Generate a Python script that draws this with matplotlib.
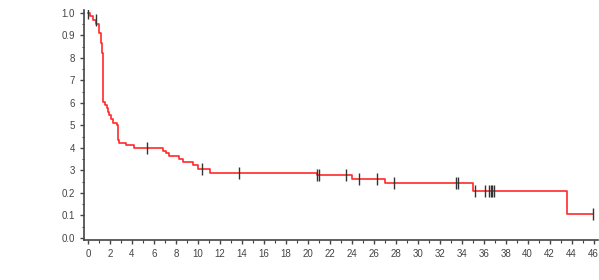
import numpy as np
import matplotlib
matplotlib.use("Agg")
import matplotlib.pyplot as plt

# Kaplan-Meier step data (time, survival after step)
times = [0, 0.18, 0.48, 0.73, 1.0, 1.18, 1.3, 1.35, 1.4, 1.57, 1.7, 1.82, 1.94, 2.1,
         2.25, 2.6, 2.75, 2.85, 3.5, 4.2, 6.85, 7.1, 7.4, 8.27, 8.67, 9.6, 10.0, 11.1,
         20.8, 24.0, 27.0, 35.0, 43.6, 45.9]
surv = [1.0, 0.987, 0.97, 0.95, 0.91, 0.868, 0.82, 0.78, 0.603, 0.59, 0.576, 0.561,
        0.547, 0.53, 0.512, 0.502, 0.436, 0.424, 0.412, 0.401, 0.388, 0.376, 0.364,
        0.35, 0.338, 0.325, 0.306, 0.29, 0.28, 0.262, 0.243, 0.21, 0.107, 0.107]
censor_t = [0.0, 0.7, 5.33, 10.4, 13.7, 20.8, 21.05, 23.45, 24.7, 26.3, 27.8, 33.5,
            33.7, 35.2, 36.1, 36.5, 36.65, 36.8, 36.95, 45.9]

xticks = list(range(0, 47, 2))
yticks = [0.0, 0.1, 0.2, 0.3, 0.4, 0.5, 0.6, 0.7, 0.8, 0.9, 1.0]
ytick_labels = ["0.0", "0.1", "0.2", "3", "4", "5", "6", "7", "8", "0.9", "1.0"]

W, H = 599, 280
fig = plt.figure(figsize=(W / 100, H / 100), dpi=100)
ax = fig.add_axes([84 / W, 40 / H, 514 / W, 230 / H])

ax.step(times, surv, where="post", color="#ff2a2a", lw=1.2, zorder=2)

def level(t):
    idx = np.searchsorted(times, t, side="right") - 1
    return surv[max(idx, 0)]

cy = [level(t) for t in censor_t]
ax.plot(censor_t, cy, ls="none", marker="|", ms=9, mew=1.0, color="#333333", zorder=3)

ax.set_xlim(-0.36, 46.4)
ax.set_ylim(-0.009, 1.013)
ax.set_xticks(xticks)
ax.set_xticks(np.arange(0, 47, 1), minor=True)
ax.set_yticks(yticks)
ax.set_yticks(np.arange(0, 1.01, 0.05), minor=True)
ax.set_yticklabels(ytick_labels)
ax.set_xticklabels([str(v) for v in xticks])
for lab, v in zip(ax.get_xticklabels(), xticks):
    if v > 24:
        lab.set_color("#aaaaaa")
        lab.set_fontsize(4.5)

for s in ["top", "right"]:
    ax.spines[s].set_visible(False)
for s in ["left", "bottom"]:
    ax.spines[s].set_color("#444444")
    ax.spines[s].set_linewidth(1.2)

ax.tick_params(axis="both", which="major", length=3, width=1, color="#444444",
               labelsize=7, labelcolor="#444444", pad=3.5)
ax.tick_params(axis="both", which="minor", length=1.8, width=0.8, color="#444444")
for lab in ax.get_xticklabels() + ax.get_yticklabels():
    lab.set_fontfamily("Liberation Sans")

fig.savefig("out.png", dpi=100)
